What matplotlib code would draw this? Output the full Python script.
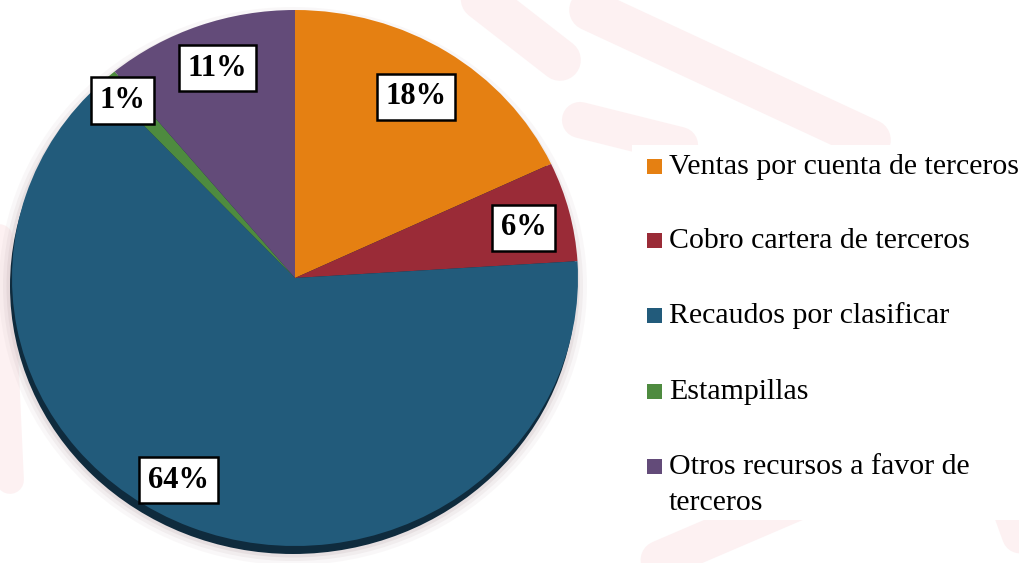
import numpy as np
import matplotlib.pyplot as plt
from matplotlib.patches import Ellipse, Rectangle

# ---- data ----
labels = [
    "Ventas por cuenta de terceros",
    "Cobro cartera de terceros",
    "Recaudos por clasificar",
    "Estampillas",
    "Otros recursos a favor de\nterceros",
]
shares = [18, 6, 64, 1, 11]
pct_labels = ["18%", "6%", "64%", "1%", "11%"]
colors = ["#E58012", "#9A2B37", "#225B7B", "#4E8B3F", "#634B79"]

# label placement (radius as fraction, clockwise nudge in degrees)
label_r = [0.80, 0.83, 0.86, 0.90, 0.83]
label_nudge = [0.0, 1.4, 7.0, -1.2, 0.5]

W, H = 1019, 563
SERIF = ["Liberation Serif", "DejaVu Serif"]

fig = plt.figure(figsize=(W / 100, H / 100), dpi=100)

# background axes in pixel coords (y down)
bg = fig.add_axes([0, 0, 1, 1])
bg.set_xlim(0, W)
bg.set_ylim(H, 0)
bg.axis("off")

# faint watermark bands
bands = [
    (470, -10, 560, 60, 30),
    (590, 10, 870, 140, 30),
    (580, 120, 680, 145, 26),
    (960, 230, 1030, 420, 30),
    (660, 560, 800, 500, 28),
    (1000, 480, 1030, 563, 26),
    (-5, 150, 10, 480, 20),
]
for x0, y0, x1, y1, lw in bands:
    bg.plot([x0, x1], [y0, y1], color="#FDF1F2", lw=lw, solid_capstyle="round", zorder=0)

# pie ellipse geometry
left, right, top, bottom = 12, 578, 10, 546
cx, cy = (left + right) / 2, (top + bottom) / 2
rx, ry = (right - left) / 2, (bottom - top) / 2

# soft glow + dark rim shadow
for grow, a in [(22, 0.10), (14, 0.16), (7, 0.25)]:
    bg.add_patch(Ellipse((cx - 2, cy + 8), 2 * rx + grow, 2 * ry + grow,
                         color="#C9B9BB", alpha=a, lw=0, zorder=1))
bg.add_patch(Ellipse((cx - 2, cy + 8), 2 * rx, 2 * ry, color="#0F2B3D", lw=0, zorder=2))

# legend (drawn by hand so the wrapped label keeps its marker on line 1)
bg.add_patch(Rectangle((632, 145), 387, 375, color="white", lw=0, zorder=2))
leg_y = [166, 240, 315, 391, 466]
for lab, col, y in zip(labels, colors, leg_y):
    bg.add_patch(Rectangle((647, y - 7.5), 15, 15, color=col, lw=0, zorder=3))
    for k, line in enumerate(lab.split("\n")):
        bg.text(669, y + 8 + k * 36, line, fontsize=21.5, family=SERIF,
                va="baseline", ha="left", color="black", zorder=3)

# pie
ax = fig.add_axes([left / W, (H - bottom) / H, (right - left) / W, (bottom - top) / H])
wedges, _ = ax.pie(shares, colors=colors, startangle=90, counterclock=False,
                   radius=1, wedgeprops=dict(linewidth=0))
ax.set_aspect("auto")
ax.set_xlim(-1, 1)
ax.set_ylim(-1, 1)
ax.axis("off")

for w, txt, r, nud in zip(wedges, pct_labels, label_r, label_nudge):
    ang = np.deg2rad((w.theta1 + w.theta2) / 2 - nud)
    ax.text(r * np.cos(ang), r * np.sin(ang), txt, ha="center", va="center",
            fontsize=22, fontweight="bold", family=SERIF, color="black",
            bbox=dict(boxstyle="square,pad=0.28", fc="white", ec="black", lw=1.8))

fig.savefig("out.png", dpi=100)
